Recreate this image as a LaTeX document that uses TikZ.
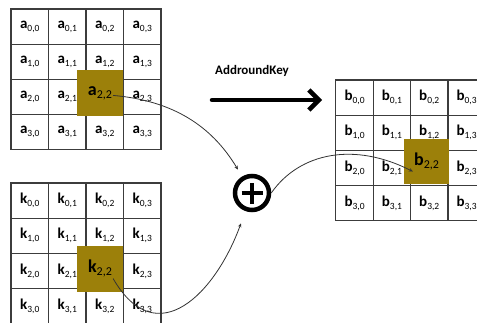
\documentclass[tikz,border=0pt]{standalone}
\usepackage{fontspec}
\setmainfont{Carlito}
\usetikzlibrary{arrows.meta}

\definecolor{keygold}{RGB}{156,128,10}
\definecolor{gridgray}{RGB}{60,60,60}

% matrix entry: bold letter with a lowered index pair
\newcommand{\ent}[2]{{\fontsize{15}{15}\selectfont\bfseries #1}\raisebox{-3pt}{\fontsize{9.5}{10}\selectfont #2}}
\newcommand{\bigent}[2]{{\fontsize{18}{18}\selectfont\bfseries #1}\raisebox{-3.5pt}{\fontsize{12}{12}\selectfont #2}}

\begin{document}
\begin{tikzpicture}[x=1pt,y=1pt,
  cell/.style={draw=gridgray,line width=1.1pt,minimum width=37.5pt,minimum height=35.2pt,inner sep=0pt,outer sep=0pt},
  hilite/.style={fill=keygold,minimum size=46pt,inner sep=0pt},
  link/.style={draw=black!80,line width=0.8pt,-{Stealth[length=4pt,width=3.5pt]}}]

\useasboundingbox (0,0) rectangle (477,322);
\clip (0,0) rectangle (477,322);

% state, key and result matrices
\foreach \r in {0,...,3}
  \foreach \c in {0,...,3} {
    \node[cell] (a\r\c) at ({11+37.5*(\c+0.5)},{313-35.2*(\r+0.5)}) {\ent{a}{\r,\c}};
    \node[cell] (k\r\c) at ({11+37.5*(\c+0.5)},{139-35.2*(\r+0.5)}) {\ent{k}{\r,\c}};
    \node[cell] (b\r\c) at ({336+37.3*(\c+0.5)},{242-35.2*(\r+0.5)}) {\ent{b}{\r,\c}};
  }

% the highlighted bytes
\node[hilite] (ha) at (100,228.5) {};
\node[inner sep=1pt] (ta) at (ha) {\bigent{a}{2,2}};
\node[hilite] (hk) at (100,53.5) {};
\node[inner sep=1pt] (tk) at (hk) {\bigent{k}{2,2}};
\node[hilite,minimum size=45pt] (hb) at (426.5,160.5) {};
\node[inner sep=1pt] (tb) at (hb) {\bigent{b}{2,2}};

% xor
\node[circle,draw,line width=4.5pt,minimum size=34pt,inner sep=0pt] (xor) at (252,129) {};
\draw[line width=4.5pt] (xor.center) ++(-10.5,0) -- ++(21,0);
\draw[line width=4.5pt] (xor.center) ++(0,-10.5) -- ++(0,21);

% step label and arrow
\node[font=\fontsize{13}{13}\selectfont\bfseries] (title) at (252,251) {AddroundKey};
\coordinate (arrs) at (212,222);
\coordinate (arre) at (322,222);
\draw[line width=4.5pt,line cap=round,-{Straight Barb[length=10pt,width=20pt]}] (arrs) -- (arre);

% byte flow
\draw[link,shorten >=8pt] (ta.base east) to[out=-5,in=121] (xor.121);
\draw[link,shorten >=13pt] (tk.south east) to[out=-60,in=-110,looseness=1.5] (xor.-110);
\draw[link] (xor.east) .. controls (300,170) and (355,180) .. (tb.south west);
\end{tikzpicture}
\end{document}
